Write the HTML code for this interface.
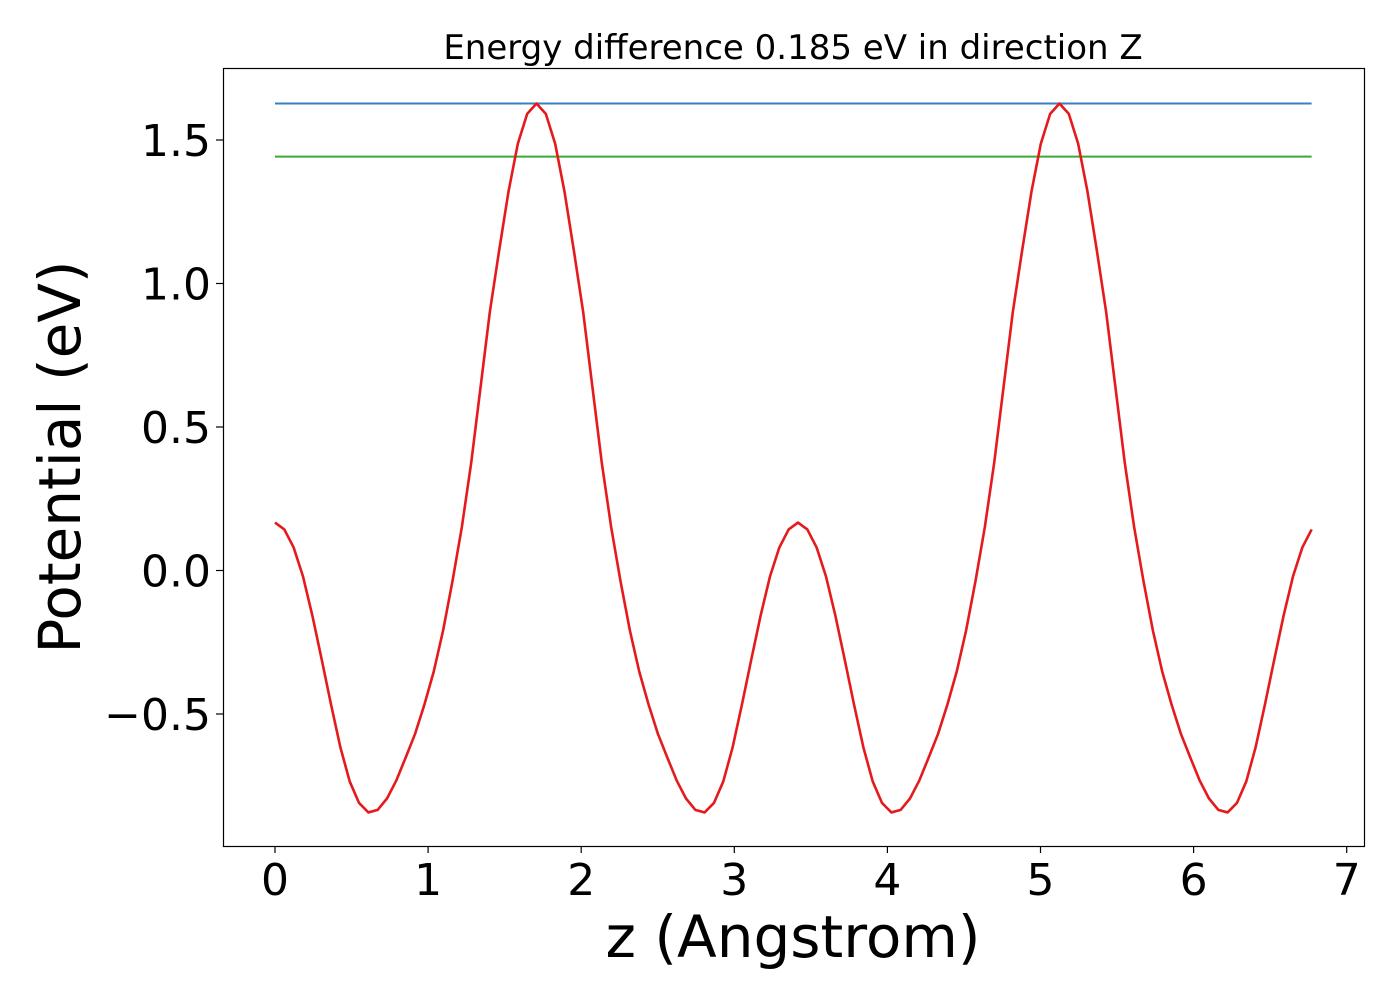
<!DOCTYPE html>
<html><head><meta charset="utf-8"><style>body{margin:0;background:#fff}svg{display:block;font-family:"DejaVu Sans","Liberation Sans",sans-serif}</style></head>
<body>
<svg id="chart" width="1400" height="1000" viewBox="0 0 1400 1000" xmlns="http://www.w3.org/2000/svg">
<rect x="0" y="0" width="1400" height="1000" fill="#fff"/>
<text x="793" y="59" font-size="34" text-anchor="middle">Energy difference 0.185 eV in direction Z</text>
<g id="plot"></g>
<g id="xt"></g>
<g id="yt"></g>
<rect x="223.5" y="68.5" width="1141" height="778" fill="none" stroke="#000" stroke-width="1.2"/>
<text x="793" y="957" font-size="58" text-anchor="middle">z (Angstrom)</text>
<text x="0" y="0" font-size="58" text-anchor="middle" transform="translate(80,457) rotate(-90)">Potential (eV)</text>
</svg>
<script>
const zStep = 0.061;
const potential = [0.167,0.143,0.08,-0.021,-0.157,-0.31,-0.467,-0.616,-0.735,-0.81,-0.843,-0.834,-0.794,-0.731,-0.651,-0.569,-0.467,-0.352,-0.209,-0.038,0.15,0.373,0.636,0.90,1.115,1.32,1.487,1.591,1.627,
1.591,1.487,1.32,1.115,0.90,0.636,0.373,0.15,-0.038,-0.209,-0.352,-0.467,-0.569,-0.651,-0.731,-0.794,-0.834,-0.843,-0.81,-0.735,-0.616,-0.467,-0.31,-0.157,-0.021,0.08,0.143,0.167,
0.143,0.08,-0.021,-0.157,-0.31,-0.467,-0.616,-0.735,-0.81,-0.843,-0.834,-0.794,-0.731,-0.651,-0.569,-0.467,-0.352,-0.209,-0.038,0.15,0.373,0.636,0.90,1.115,1.32,1.487,1.591,1.627,
1.591,1.487,1.32,1.115,0.90,0.636,0.373,0.15,-0.038,-0.209,-0.352,-0.467,-0.569,-0.651,-0.731,-0.794,-0.834,-0.843,-0.81,-0.735,-0.616,-0.467,-0.31,-0.157,-0.021,0.08,0.143];
const barrierMax = 1.627;
const barrierLevel = 1.442;
const xTicks = [0,1,2,3,4,5,6,7];
const xTickLabels = ["0","1","2","3","4","5","6","7"];
const yTicks = [-0.5,0,0.5,1.0,1.5];
const yTickLabels = ["\u22120.5","0.0","0.5","1.0","1.5"];

const NS="http://www.w3.org/2000/svg";
const X = z => 275 + z*153.1;
const Y = v => 570.5 - v*287;
function mk(tag, attrs, parent){const e=document.createElementNS(NS,tag);for(const k in attrs)e.setAttribute(k,attrs[k]);parent.appendChild(e);return e;}
const plot=document.getElementById('plot'), xt=document.getElementById('xt'), yt=document.getElementById('yt');
const zMax=(potential.length-1)*zStep;
let l1=mk('line',{x1:X(0),x2:X(zMax),y1:Y(barrierMax),y2:Y(barrierMax),stroke:'#3a7fc0','stroke-width':2},plot);


let l2=mk('line',{x1:X(0),x2:X(zMax),y1:Y(barrierLevel),y2:Y(barrierLevel),stroke:'#3ca83c','stroke-width':2},plot);


let pts=potential.map((v,i)=>X(i*zStep).toFixed(2)+','+Y(v).toFixed(2)).join(' ');
let pl=mk('polyline',{points:pts,fill:'none',stroke:'#e41a1c','stroke-width':2.6,'stroke-linejoin':'round'},plot);


xTicks.forEach((t,i)=>{
  let tk=mk('line',{x1:X(t),x2:X(t),y1:846,y2:853,stroke:'#000','stroke-width':1.2},xt);
  
  
  let tx=mk('text',{x:X(t),y:895,'font-size':44,'text-anchor':'middle'},xt);
  tx.textContent=xTickLabels[i];
  
  
});
yTicks.forEach((t,i)=>{
  let tk=mk('line',{x1:216,x2:223,y1:Y(t),y2:Y(t),stroke:'#000','stroke-width':1.2},yt);
  
  
  let tx=mk('text',{x:211,y:Y(t)+16,'font-size':44,'text-anchor':'end'},yt);
  tx.textContent=yTickLabels[i];
  
  
});
</script>
</body></html>
